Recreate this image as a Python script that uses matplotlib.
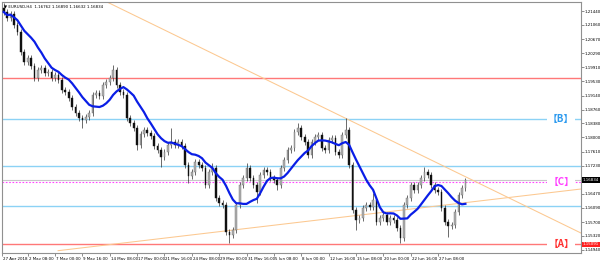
import matplotlib
matplotlib.use('Agg')
import matplotlib.pyplot as plt
import matplotlib.transforms as mtransforms
import numpy as np
import pandas as pd

# EURUSD H4 closes (one bar per ~8h slot)
closes = [1.21413, 1.21249, 1.21358, 1.21059, 1.20869, 1.20325, 1.20053, 1.20161,
          1.19944, 1.19617, 1.19835, 1.19889, 1.19753, 1.19781, 1.19617, 1.19699,
          1.19563, 1.19291, 1.19237, 1.19073, 1.18829, 1.18665, 1.18529, 1.18475,
          1.18557, 1.18665, 1.19155, 1.19209, 1.19128, 1.19427, 1.19509, 1.19617,
          1.19835, 1.19427, 1.19237, 1.19155, 1.18529, 1.18393, 1.18257, 1.17795,
          1.18094, 1.18203, 1.18121, 1.18040, 1.17768, 1.17659, 1.17469, 1.17605,
          1.17795, 1.17877, 1.17795, 1.17877, 1.17768, 1.17251, 1.16952, 1.17061,
          1.17333, 1.17251, 1.17169, 1.16707, 1.17061, 1.17169, 1.16353, 1.16217,
          1.16163, 1.15429, 1.15347, 1.15483, 1.16163, 1.16707, 1.16897, 1.17169,
          1.16897, 1.16707, 1.16517, 1.16979, 1.17115, 1.17061, 1.16897, 1.16843,
          1.16707, 1.17169, 1.17387, 1.17659, 1.17713, 1.18149, 1.18257, 1.18013,
          1.17877, 1.17523, 1.17877, 1.18013, 1.18067, 1.17713, 1.17659, 1.17931,
          1.17985, 1.17605, 1.17523, 1.18067, 1.18203, 1.17251, 1.16027, 1.15755,
          1.15809, 1.16081, 1.16163, 1.16109, 1.16299, 1.15701, 1.15809, 1.15891,
          1.15701, 1.15809, 1.15755, 1.15537, 1.15265, 1.16163, 1.16353, 1.16707,
          1.16571, 1.16707, 1.16897, 1.17061, 1.16979, 1.16707, 1.16571, 1.16517,
          1.16081, 1.15701, 1.15592, 1.15619, 1.15973, 1.16435, 1.16625, 1.16834]
first_open = 1.2152

# notable wick extremes
high_bars = [0, 32, 49, 61, 71, 86, 100, 108, 123]
high_vals = [1.2166, 1.19971, 1.18257, 1.17305, 1.17305, 1.18393, 1.18529, 1.16489, 1.17197]
low_bars = [23, 39, 46, 54, 66, 74, 80, 103, 116, 130]
low_vals = [1.18257, 1.17659, 1.17197, 1.16761, 1.15129, 1.16217, 1.16571, 1.15483, 1.15129, 1.15293]

# horizontal levels
red_levels = [1.19620, 1.15091]
blue_levels = [1.18502, 1.17227, 1.16130]
magenta_level = 1.16789
bid_price = 1.16834

# trendlines (bar index, price)
trend_down = [(30.2, 1.21685), (168.8, 1.15400)]
trend_up = [(15.9, 1.14920), (168.8, 1.16598)]

ytick_vals = [1.21440, 1.21060, 1.20670, 1.20290, 1.19910, 1.19530, 1.19140, 1.18760,
              1.18380, 1.18000, 1.17610, 1.17230, 1.16470, 1.16090, 1.15700, 1.15320,
              1.14940]
xtick_bars = [-0.5, 7, 15, 23, 31, 39, 47, 55, 63, 71, 79, 87, 95, 103, 111, 119, 127]
xtick_text = ['27 Apr 2018', '2 May 08:00', '7 May 00:00', '9 May 16:00', '14 May 08:00',
              '17 May 00:00', '21 May 16:00', '24 May 08:00', '29 May 00:00',
              '31 May 16:00', '5 Jun 08:00', '8 Jun 00:00', '12 Jun 16:00',
              '15 Jun 08:00', '20 Jun 00:00', '22 Jun 16:00', '27 Jun 08:00']

# build OHLC
n = len(closes)
c = np.array(closes)
o = np.concatenate([[first_open], c[:-1]])
hi = np.maximum(o, c) + 0.0007
lo = np.minimum(o, c) - 0.0007
for b, v in zip(high_bars, high_vals):
    hi[b] = max(hi[b], v)
for b, v in zip(low_bars, low_vals):
    lo[b] = min(lo[b], v)
ma = pd.Series(c).rolling(10, min_periods=1).mean().values
x = np.arange(n)

fig = plt.figure(figsize=(6, 2.6), dpi=100)
ax = fig.add_axes([2 / 600, 1 - 253 / 260, 579 / 600, 251 / 260])
ax.set_xlim(-0.5, 168.8)
ax.set_ylim(1.14857, 1.21685)

# horizontal levels
for lv in red_levels:
    ax.axhline(lv, color='#FF7878', lw=1.0, zorder=1)
for lv in blue_levels:
    ax.axhline(lv, color='#8CD2F5', lw=1.0, zorder=1)
ax.axhline(bid_price, color='#C8C8C8', lw=0.8, zorder=1)
ax.axhline(magenta_level, color='#FF44FF', lw=0.8, ls=(0, (1.5, 1.5)), zorder=1)

# trendlines
for tl in (trend_down, trend_up):
    ax.plot([tl[0][0], tl[1][0]], [tl[0][1], tl[1][1]], color='#FCC890', lw=0.75, zorder=2)

# candles
up = c >= o
ax.vlines(x, lo, hi, color='#303030', lw=0.5, zorder=3)
body = np.maximum(np.abs(c - o), 0.00012)
ax.bar(x[up], body[up], bottom=o[up], width=0.5, color='#B0B0B0',
       edgecolor='#707070', lw=0.3, zorder=4)
ax.bar(x[~up], body[~up], bottom=c[~up], width=0.5, color='#101010',
       edgecolor='#101010', lw=0.3, zorder=4)

ax.plot(x, ma, color='#0A1EE6', lw=1.6, zorder=5)

# level labels
lab_font = ['Noto Sans CJK JP', 'DejaVu Sans']
for txt, lv, col in [('【B】', blue_levels[0], '#2E9BEF'),
                     ('【C】', magenta_level, '#FF40FF'),
                     ('【A】', red_levels[1], '#FF3030')]:
    ax.text(163, lv, txt, color=col, fontsize=7, fontweight='bold', family=lab_font,
            ha='center', va='center', zorder=6,
            bbox=dict(facecolor='white', edgecolor='none', pad=0.6))

# axes styling
for sp in ax.spines.values():
    sp.set_color('#909090')
    sp.set_linewidth(0.8)
ax.yaxis.tick_right()
ax.set_yticks(ytick_vals)
ax.set_yticklabels(['%.5f' % v for v in ytick_vals])
ax.set_xticks(xtick_bars)
ax.set_xticklabels(xtick_text, ha='left')
ax.tick_params(axis='both', labelsize=2.9, length=2, width=0.5, color='#606060', pad=0.8)
for lab in ax.get_xticklabels():
    lab.set_transform(lab.get_transform() + mtransforms.ScaledTranslation(1 / 100, 0, fig.dpi_scale_trans))

# price boxes on the axis
trans = mtransforms.blended_transform_factory(ax.transAxes, ax.transData)
ax.text(1.003, bid_price, '%.5f' % bid_price, transform=trans, fontsize=2.9, color='white',
        ha='left', va='center', clip_on=False, zorder=7,
        bbox=dict(facecolor='black', edgecolor='none', pad=0.6))
ax.text(1.003, red_levels[1], '%.5f' % red_levels[1], transform=trans, fontsize=2.9,
        color='white', ha='left', va='center', clip_on=False, zorder=7,
        bbox=dict(facecolor='#FF2020', edgecolor='none', pad=0.6))

ax.text(0.004, 0.99, '\u25bc EURUSD,H4  1.16762 1.16890 1.16632 1.16834', transform=ax.transAxes,
        fontsize=2.9, ha='left', va='top', zorder=8)

fig.savefig('out.png', dpi=100)
